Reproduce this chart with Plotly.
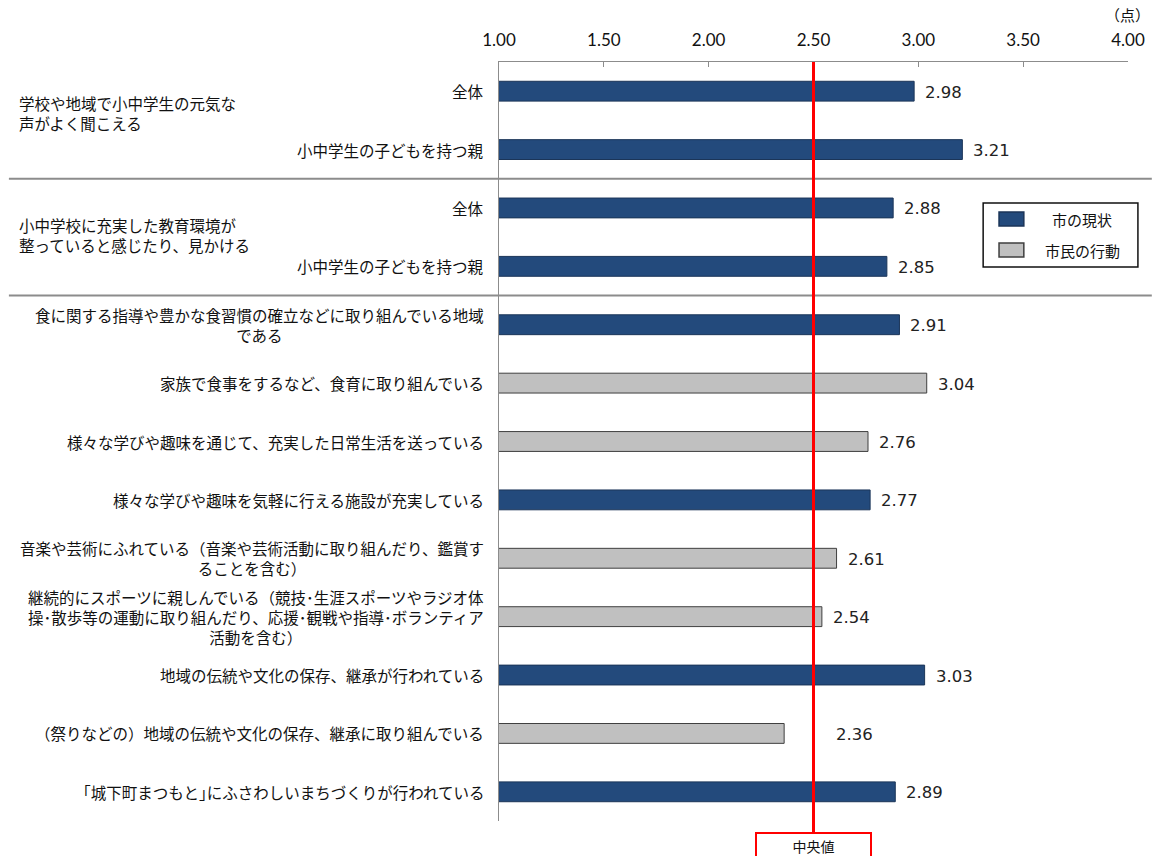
import plotly.graph_objects as go

# --- data -------------------------------------------------------------
row_labels = [
    "全体",
    "小中学生の子どもを持つ親",
    "全体",
    "小中学生の子どもを持つ親",
    "食に関する指導や豊かな食習慣の確立などに取り組んでいる地域<br>である",
    "家族で食事をするなど、食育に取り組んでいる",
    "様々な学びや趣味を通じて、充実した日常生活を送っている",
    "様々な学びや趣味を気軽に行える施設が充実している",
    "音楽や芸術にふれている（音楽や芸術活動に取り組んだり、鑑賞す<br>ることを含む）",
    "継続的にスポーツに親しんでいる（競技･生涯スポーツやラジオ体<br>操･散歩等の運動に取り組んだり、応援･観戦や指導･ボランティア<br>活動を含む）",
    "地域の伝統や文化の保存、継承が行われている",
    "（祭りなどの）地域の伝統や文化の保存、継承に取り組んでいる",
    "｢城下町まつもと｣にふさわしいまちづくりが行われている",
]
scores = [2.98, 3.21, 2.88, 2.85, 2.91, 3.04, 2.76, 2.77, 2.61, 2.54, 3.03, 2.36, 2.89]
kinds = ["市の現状", "市の現状", "市の現状", "市の現状", "市の現状", "市民の行動", "市民の行動",
         "市の現状", "市民の行動", "市民の行動", "市の現状", "市民の行動", "市の現状"]

group_labels = ["学校や地域で小中学生の元気な<br>声がよく聞こえる",
                "小中学校に充実した教育環境が<br>整っていると感じたり、見かける"]
group_pos = [0.38, 2.46]
separators = [1.5, 3.5]

median_value = 2.50
x_ticks = [1.00, 1.50, 2.00, 2.50, 3.00, 3.50, 4.00]
x_range = [1.0, 4.0]
series = ["市の現状", "市民の行動"]

series_colors = {"市の現状": "#234A7C", "市民の行動": "#C0C0C0"}
series_lines = {"市の現状": "#1B3558", "市民の行動": "#3F3F3F"}

JP = "Noto Sans CJK JP"
NUM = "DejaVu Sans"
TICK = "Lato"

# plot-area geometry in pixels
W, H = 1157, 856
plot_top, plot_bot = 62, 821
plot_l, plot_r = 499, 1133
plot_h = plot_bot - plot_top
plot_w = plot_r - plot_l


def px_x(p):
    return (p - plot_l) / plot_w


def px_y(p):
    return (plot_bot - p) / plot_h


fig = go.Figure()
for name in series:
    idx = [i for i, k in enumerate(kinds) if k == name]
    fig.add_trace(go.Bar(
        name=name,
        orientation="h",
        y=idx,
        x=[scores[i] for i in idx],
        width=0.34,
        marker=dict(color=series_colors[name],
                    line=dict(color=series_lines[name], width=1)),
        hovertemplate="%{x:.2f}<extra>" + name + "</extra>",
        showlegend=False,
    ))

ann = []
# row labels
for i, lab in enumerate(row_labels):
    ann.append(dict(x=0, xref="paper", y=i, yref="y", text=lab, showarrow=False,
                    xanchor="right", yanchor="middle", align="center", xshift=-13,
                    font=dict(family=JP, size=15.5, color="#111")))
# group labels
for lab, p in zip(group_labels, group_pos):
    ann.append(dict(x=0, xref="paper", y=p, yref="y", text=lab, showarrow=False,
                    xanchor="left", yanchor="middle", align="left", xshift=-482,
                    font=dict(family=JP, size=15.5, color="#111")))
# value labels (the one that would sit on the median line is pushed past it)
label_shift = {11: 41}
for i, v in enumerate(scores):
    ann.append(dict(x=v, xref="x", y=i, yref="y", text=f"{v:.2f}", showarrow=False,
                    xanchor="left", yanchor="middle", xshift=9 + label_shift.get(i, 0),
                    yshift=-1, font=dict(family=NUM, size=16.5, color="#222")))
# unit
ann.append(dict(x=px_x(1157), xref="paper", y=px_y(15), yref="paper", text="（点）",
                showarrow=False, xanchor="right", yanchor="middle",
                font=dict(family=JP, size=15, color="#111")))

med_x = (median_value - x_range[0]) / (x_range[1] - x_range[0])
box_top = px_y(832)

# median box
ann.append(dict(x=med_x, xref="paper", y=box_top, yref="paper", text="中央値",
                showarrow=False, xanchor="center", yanchor="top", width=111, height=22,
                bordercolor="#FF0000", borderwidth=2, bgcolor="white", borderpad=1,
                font=dict(family=JP, size=14, color="#111")))

shapes = []
for s in separators:
    shapes.append(dict(type="line", xref="paper", yref="y",
                       x0=px_x(5), x1=px_x(W), y0=s, y1=s,
                       line=dict(color="#8C8C8C", width=2)))
shapes.append(dict(type="line", xref="paper", yref="paper", x0=med_x, x1=med_x,
                   y0=box_top, y1=1, line=dict(color="#FF0000", width=3)))

# legend box
shapes.append(dict(type="rect", xref="paper", yref="paper",
                   x0=px_x(987), x1=px_x(1143), y0=px_y(267), y1=px_y(203),
                   line=dict(color="#111", width=1.5), fillcolor="white"))
for k, name in enumerate(series):
    cy = 219 + 31 * k
    shapes.append(dict(type="rect", xref="paper", yref="paper",
                       x0=px_x(1003), x1=px_x(1028), y0=px_y(cy + 7), y1=px_y(cy - 7),
                       line=dict(color=series_lines[name], width=1.5),
                       fillcolor=series_colors[name]))
    ann.append(dict(x=px_x(1087), xref="paper", y=px_y(cy), yref="paper", text=name,
                    showarrow=False, xanchor="center", yanchor="middle",
                    font=dict(family=JP, size=15, color="#111")))

fig.update_layout(
    width=W, height=H,
    margin=dict(l=plot_l, r=W - plot_r, t=plot_top, b=H - plot_bot),
    paper_bgcolor="white", plot_bgcolor="white",
    barmode="overlay",
    showlegend=False,
    xaxis=dict(range=x_range, side="top", tickvals=x_ticks,
               ticktext=[f"{t:.2f}" for t in x_ticks],
               showgrid=False, zeroline=False, showline=True, linecolor="#8C8C8C",
               linewidth=1, ticks="inside", ticklen=5, tickcolor="#8C8C8C",
               ticklabelstandoff=8,
               tickfont=dict(family=TICK, size=17, color="#111")),
    yaxis=dict(range=[12.5, -0.5], showticklabels=False, showgrid=False, zeroline=False,
               showline=True, linecolor="#8C8C8C", linewidth=1, ticks=""),
    annotations=ann,
    shapes=shapes,
)

fig.write_html("out.html")
